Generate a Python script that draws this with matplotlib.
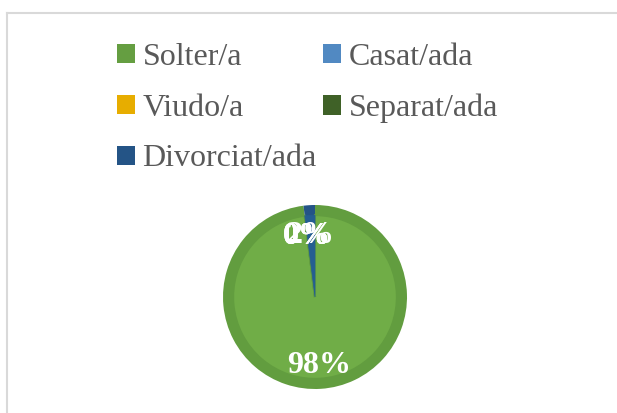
import matplotlib
matplotlib.use("Agg")
from matplotlib import pyplot as plt
from matplotlib.patches import Patch
from matplotlib.lines import Line2D

# Estat civil (percentatges)
categories = ['Solter/a', 'Casat/ada', 'Viudo/a', 'Separat/ada', 'Divorciat/ada']
values = [98, 0, 0, 0, 2]

pie_colors = ['#70ad47', '#5b9bd5', '#ffc000', '#43682b', '#255e91']
ring_colors = ['#629d3f', '#4f8bc3', '#e6ac00', '#3b5e25', '#245486']
legend_colors = ['#659e41', '#5189c2', '#e7ad00', '#3f6127', '#245486']

W, H = 617, 413
fig = plt.figure(figsize=(W / 100, H / 100), dpi=100)

# light grey chart-area border (only left and top visible)
ytop = 1 - 12.5 / H
xleft = 6.5 / W
fig.add_artist(Line2D([xleft, xleft], [-0.1, ytop], transform=fig.transFigure,
                      color='#d9d9d9', linewidth=1.5))
fig.add_artist(Line2D([xleft, 1.1], [ytop, ytop], transform=fig.transFigure,
                      color='#d9d9d9', linewidth=1.5))

# pie axes: centre (315, 297), radius 92 px
cx, cy, r = 315, 297, 92
ax = fig.add_axes([(cx - r) / W, (H - cy - r) / H, 2 * r / W, 2 * r / H])

# darker outer ring (bevel look)
ax.pie(values, radius=1.0, colors=ring_colors, startangle=90, counterclock=False)
wedges, texts, autotexts = ax.pie(
    values, radius=0.89, colors=pie_colors, startangle=90, counterclock=False,
    autopct='%1.0f%%', pctdistance=0.79,
    wedgeprops=dict(edgecolor='#629d3f', linewidth=1.5),
    textprops=dict(color='white', fontsize=23, fontweight='bold', family='Liberation Serif'))
# keep the small blue slice clean (no green edge over it)
wedges[-1].set_edgecolor(pie_colors[-1])
wedges[-1].set_linewidth(0.5)
for t in autotexts:
    t.set_va('center_baseline')
ax.set_xlim(-1, 1)
ax.set_ylim(-1, 1)
ax.set_aspect('equal')
ax.axis('off')

# legend filled row by row (matplotlib fills by column)
order = [0, 2, 4, 1, 3]
handles = [Patch(facecolor=legend_colors[i], edgecolor='none') for i in order]
labels = [categories[i] for i in order]
fig.legend(handles, labels, loc='upper left', bbox_to_anchor=(117 / W, 1 - 43 / H),
           ncol=2, frameon=False, borderpad=0, borderaxespad=0,
           handlelength=0.55, handleheight=0.55, handletextpad=0.25,
           columnspacing=0.2, labelspacing=0.68,
           prop=dict(family='Liberation Serif', size=23), labelcolor='#595959')

fig.savefig('out.png', dpi=100)
